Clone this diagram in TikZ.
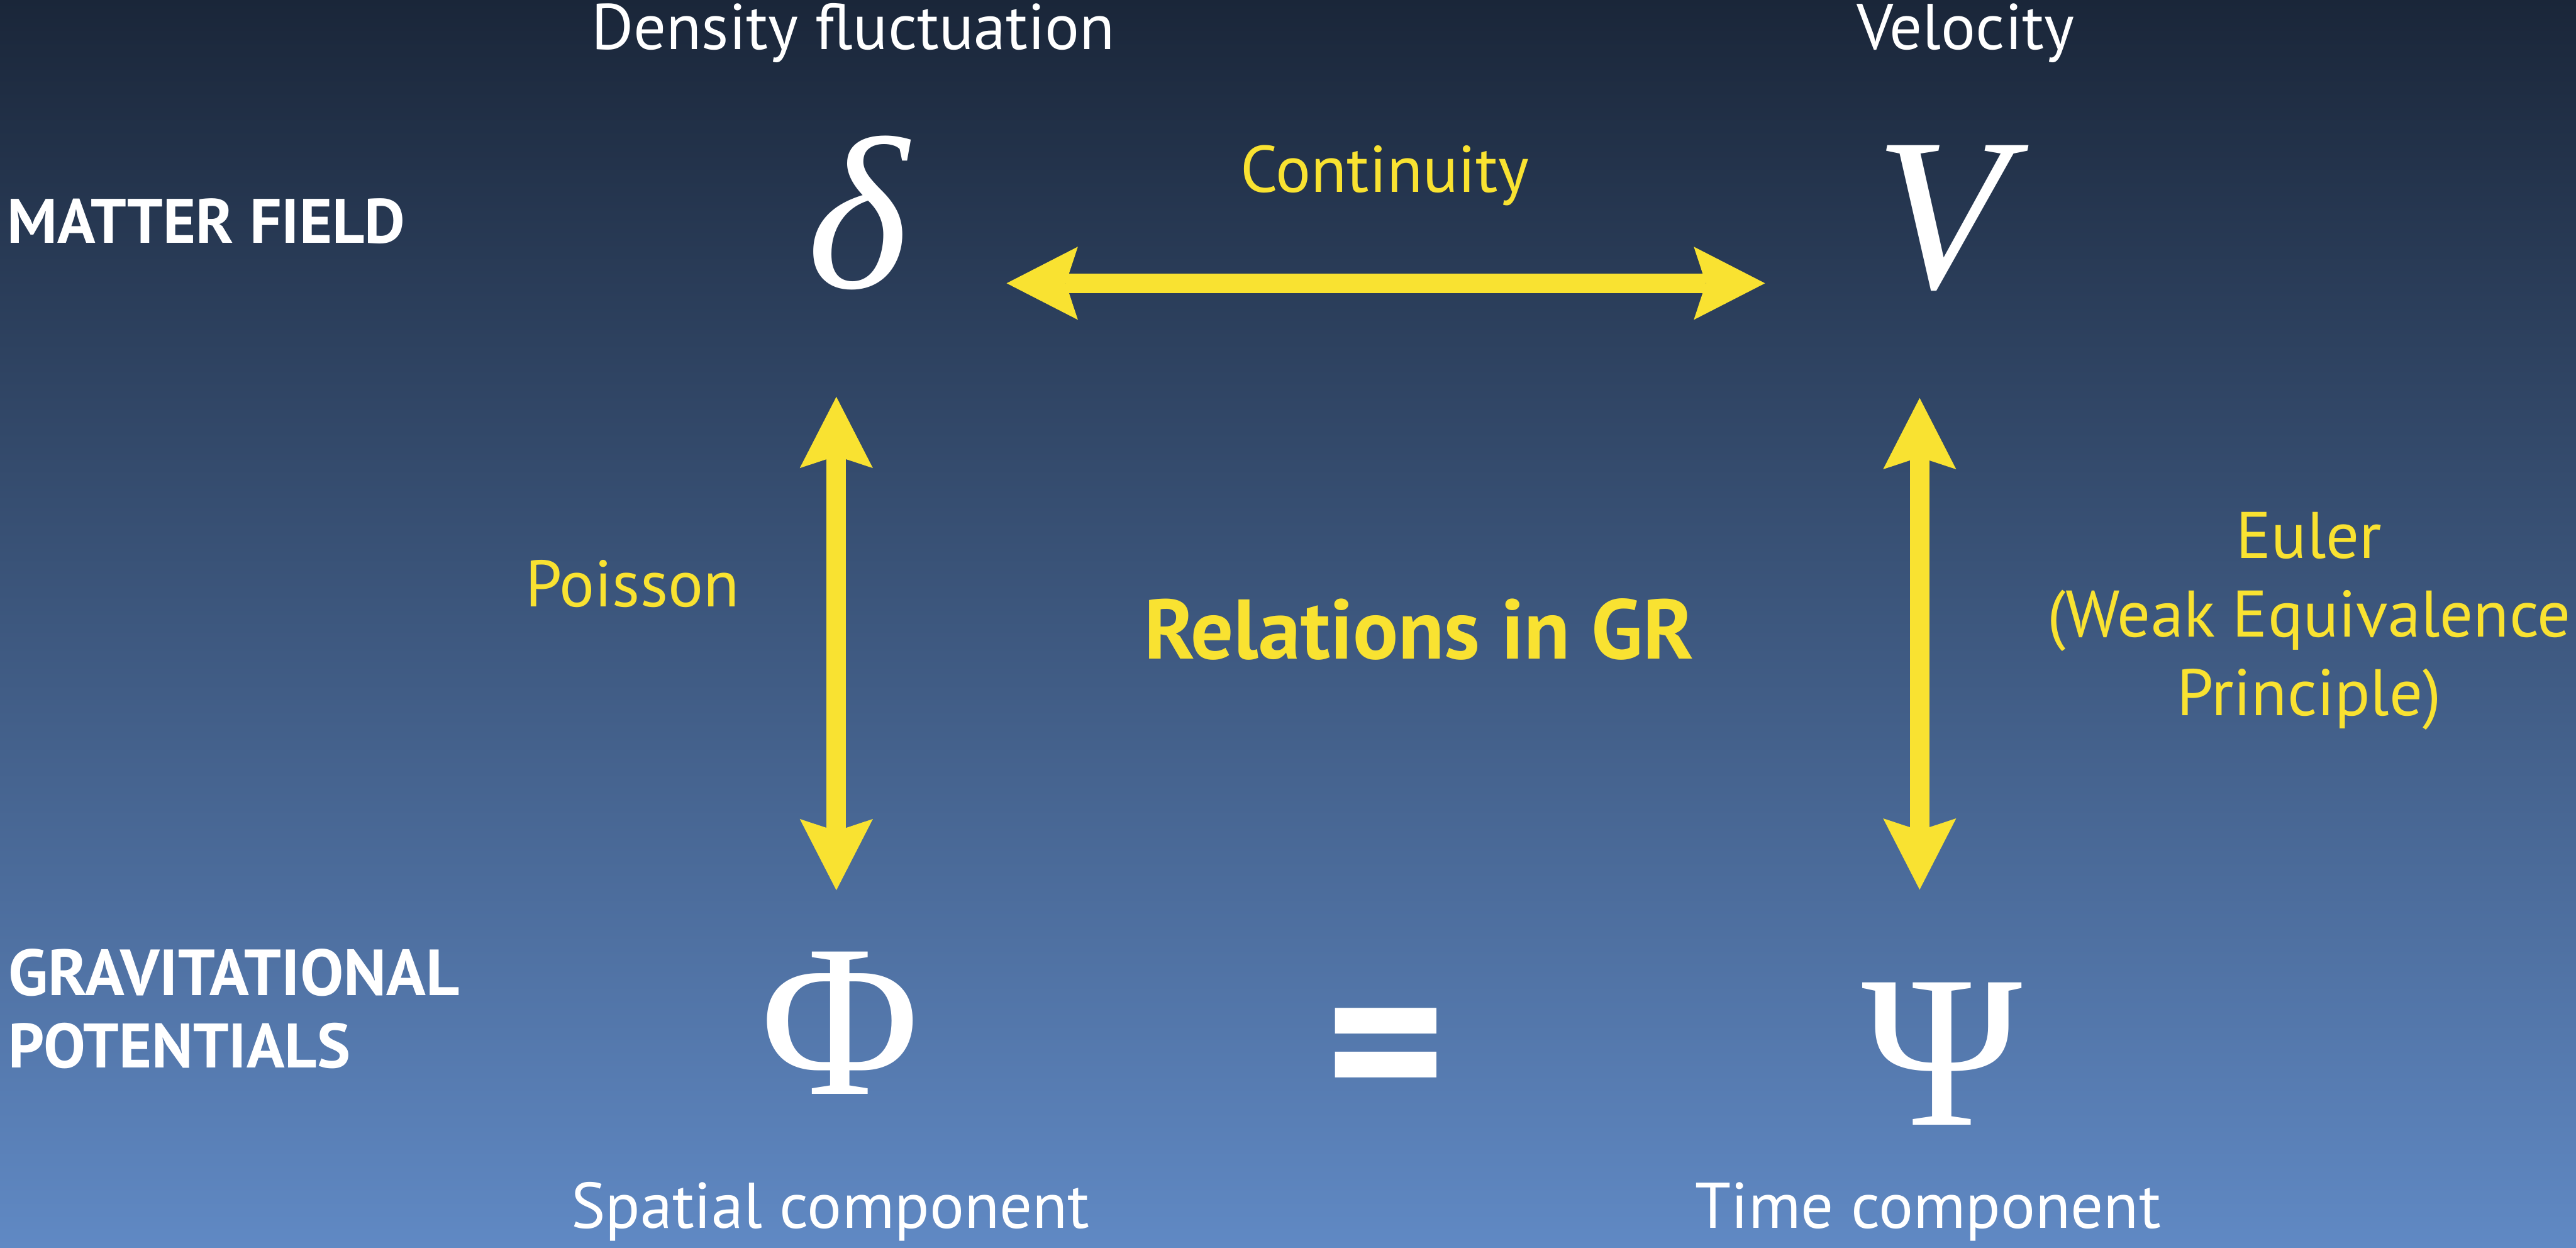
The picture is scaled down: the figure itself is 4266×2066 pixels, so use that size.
\documentclass[tikz,border=0pt]{standalone}
\usepackage{fontspec}
\setmainfont{PT Sans}
\newfontfamily\symfont{Liberation Serif}
\usetikzlibrary{arrows.meta}
\definecolor{bgtop}{HTML}{1A2639}
\definecolor{bgbot}{HTML}{6089C4}
\definecolor{gold}{HTML}{F9E231}
\tikzset{
  head/.style={text=white, anchor=base, inner sep=0pt, font=\fontsize{107}{120}\selectfont},
  rel/.style={text=gold, anchor=base, inner sep=0pt, font=\fontsize{109}{131}\selectfont},
  rowlbl/.style={text=white, anchor=base west, inner sep=0pt, font=\fontsize{104}{120}\selectfont\bfseries},
  sym/.style={text=white, anchor=base, inner sep=0pt, font=\fontsize{360}{400}\selectfont\symfont},
  tip/.tip={Stealth[length=118pt,width=121pt,inset=20pt,line width=0pt]},
  biarrow/.style={draw=gold, line width=32pt, {tip}-{tip}},
}
\begin{document}
\begin{tikzpicture}[x=1pt,y=-1pt]
\path[use as bounding box, top color=bgtop, bottom color=bgbot] (0,0) rectangle (4266,2066);

% column headers
\node[head] (hdens) at (1413,82) {Density fluctuation};
\node[head] (hvel) at (3255,82) {Velocity};

% row labels
\node[rowlbl] (rmatter) at (12,403) {MATTER FIELD};
\node[rowlbl, font=\fontsize{108}{120}\selectfont\bfseries] (rgrav1) at (14,1648) {GRAVITATIONAL};
\node[rowlbl] (rgrav2) at (14,1768) {POTENTIALS};

% symbols
\node[sym] (delta) at (1420,477) {\itshape δ};
\node[sym] (vel) at (3215,477) {\itshape V};
\node[sym] (phi) at (1391,1812) {Φ};
\node[sym] (psi) at (3216,1863) {Ψ};
\node[text=white, inner sep=0pt, font=\fontsize{380}{380}\selectfont\bfseries] (eq) at (2295,1762) {=};

% bottom captions
\node[head] (cspat) at (1375,2033) {Spatial component};
\node[head] (ctime) at (3193,2033) {Time component};

% relation labels
\node[rel] (lcont) at (2293,318) {Continuity};
\node[rel] (lpois) at (1047,1005) {Poisson};
\node[rel, font=\fontsize{140}{150}\selectfont\bfseries] (lgr) at (2350,1091) {Relations in GR};
\node[rel] (leul1) at (3824,924) {Euler};
\node[rel] (leul2) at (3824,1055) {(Weak Equivalence};
\node[rel] (leul3) at (3824,1185) {Principle)};

% arrow end points
\coordinate (contL) at (1667,469);
\coordinate (contR) at (2923,469);
\coordinate (poisT) at (1385,657);
\coordinate (poisB) at (1385,1474);
\coordinate (eulT) at (3179,659);
\coordinate (eulB) at (3179,1473);

\draw[biarrow] (contL) -- (contR);
\draw[biarrow] (poisT) -- (poisB);
\draw[biarrow] (eulT) -- (eulB);
\end{tikzpicture}
\end{document}
